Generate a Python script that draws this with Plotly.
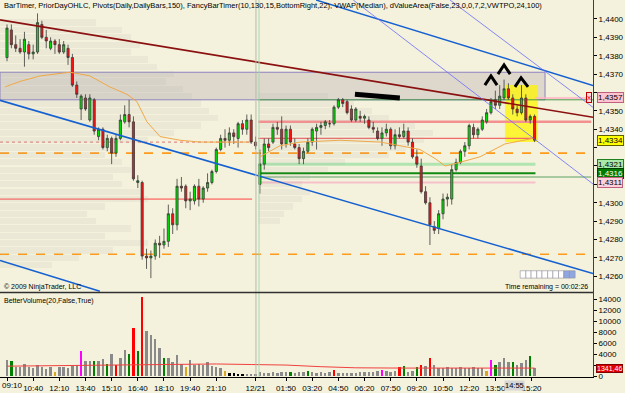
import plotly.graph_objects as go

# ---------------- DATA ----------------
opens = [1.4379,1.4394,1.4386,1.4384,1.4382,1.4386,1.4381,1.4382,1.4397,1.4390,
         1.4384,1.4388,1.4386,1.4382,1.4384,1.4379,1.4364,1.4351,1.4357,1.4345,
         1.4356,1.4336,1.4340,1.4330,1.4335,1.4327,1.4335,1.4344,1.4348,1.4344,
         1.4311,1.4311,1.4271,1.4270,1.4271,1.4278,1.4277,1.4279,1.4294,1.4288,
         1.4309,1.4309,1.4301,1.4301,1.4309,1.4302,1.4308,1.4311,1.4317,1.4329,
         1.4335,1.4334,1.4338,1.4335,1.4343,1.4340,1.4345,1.4333,1.4310,1.4321,
         1.4332,1.4333,1.4341,1.4340,1.4332,1.4340,1.4332,1.4330,1.4324,1.4328,
         1.4333,1.4339,1.4341,1.4342,1.4343,1.4343,1.4352,1.4356,1.4355,1.4351,
         1.4345,1.4347,1.4346,1.4345,1.4341,1.4339,1.4335,1.4338,1.4340,1.4331,
         1.4337,1.4336,1.4339,1.4333,1.4325,1.4320,1.4306,1.4300,1.4287,1.4286,
         1.4294,1.4302,1.4302,1.4318,1.4322,1.4328,1.4331,1.4341,1.4337,1.4340,
         1.4344,1.4349,1.4356,1.4353,1.4357,1.4362,1.4357,1.4351,1.4349,1.4357,
         1.4345,1.4347]
highs = [1.4397,1.4397,1.4391,1.4389,1.4393,1.4388,1.4386,1.4403,1.4399,1.4394,
         1.4390,1.4389,1.4389,1.4388,1.4386,1.4381,1.4366,1.4359,1.4359,1.4359,
         1.4357,1.4341,1.4341,1.4337,1.4336,1.4337,1.4348,1.4353,1.4356,1.4347,
         1.4315,1.4312,1.4275,1.4274,1.4280,1.4282,1.4286,1.4299,1.4297,1.4313,
         1.4314,1.4310,1.4306,1.4310,1.4313,1.4309,1.4316,1.4318,1.4330,1.4337,
         1.4340,1.4341,1.4340,1.4344,1.4345,1.4348,1.4348,1.4336,1.4329,1.4335,
         1.4335,1.4343,1.4344,1.4347,1.4342,1.4342,1.4335,1.4332,1.4330,1.4335,
         1.4341,1.4343,1.4344,1.4345,1.4345,1.4353,1.4357,1.4357,1.4356,1.4353,
         1.4352,1.4350,1.4348,1.4347,1.4344,1.4341,1.4341,1.4343,1.4341,1.4340,
         1.4341,1.4343,1.4341,1.4335,1.4329,1.4324,1.4309,1.4303,1.4290,1.4296,
         1.4305,1.4305,1.4321,1.4324,1.4329,1.4333,1.4343,1.4343,1.4341,1.4347,
         1.4351,1.4357,1.4361,1.4364,1.4367,1.4365,1.4359,1.4353,1.4364,1.4359,
         1.4348,1.4348]
lows = [1.4377,1.4384,1.4382,1.4381,1.4374,1.4378,1.4378,1.4381,1.4389,1.4384,
        1.4383,1.4381,1.4381,1.4381,1.4375,1.4363,1.4357,1.4345,1.4350,1.4344,
        1.4337,1.4334,1.4329,1.4328,1.4321,1.4325,1.4334,1.4343,1.4341,1.4312,
        1.4308,1.4269,1.4264,1.4259,1.4269,1.4270,1.4275,1.4276,1.4283,1.4285,
        1.4306,1.4297,1.4296,1.4299,1.4298,1.4300,1.4306,1.4310,1.4316,1.4328,
        1.4330,1.4331,1.4332,1.4330,1.4337,1.4337,1.4332,1.4329,1.4305,1.4318,
        1.4328,1.4332,1.4337,1.4329,1.4330,1.4331,1.4329,1.4321,1.4321,1.4327,
        1.4331,1.4329,1.4337,1.4340,1.4341,1.4342,1.4351,1.4352,1.4348,1.4344,
        1.4344,1.4344,1.4343,1.4340,1.4338,1.4334,1.4331,1.4336,1.4329,1.4329,
        1.4335,1.4335,1.4331,1.4324,1.4319,1.4305,1.4299,1.4277,1.4283,1.4283,
        1.4291,1.4298,1.4299,1.4317,1.4321,1.4325,1.4329,1.4335,1.4335,1.4339,
        1.4343,1.4348,1.4351,1.4351,1.4356,1.4356,1.4348,1.4347,1.4348,1.4344,
        1.4343,1.4333]
closes = [1.4395,1.4386,1.4384,1.4382,1.4389,1.4381,1.4382,1.4398,1.4390,1.4388,
          1.4388,1.4386,1.4382,1.4386,1.4379,1.4364,1.4359,1.4358,1.4351,1.4357,
          1.4339,1.4340,1.4330,1.4335,1.4327,1.4335,1.4345,1.4348,1.4344,1.4313,
          1.4312,1.4271,1.4270,1.4271,1.4278,1.4277,1.4279,1.4294,1.4288,1.4309,
          1.4308,1.4301,1.4302,1.4309,1.4302,1.4308,1.4311,1.4317,1.4329,1.4335,
          1.4334,1.4338,1.4336,1.4343,1.4340,1.4345,1.4333,1.4331,1.4321,1.4332,
          1.4330,1.4341,1.4340,1.4332,1.4340,1.4333,1.4330,1.4324,1.4328,1.4333,
          1.4340,1.4341,1.4342,1.4344,1.4343,1.4352,1.4356,1.4354,1.4349,1.4345,
          1.4351,1.4346,1.4347,1.4341,1.4340,1.4335,1.4338,1.4340,1.4331,1.4337,
          1.4336,1.4339,1.4333,1.4325,1.4321,1.4306,1.4300,1.4288,1.4285,1.4294,
          1.4302,1.4303,1.4318,1.4322,1.4328,1.4331,1.4342,1.4337,1.4340,1.4345,
          1.4349,1.4355,1.4353,1.4358,1.4362,1.4357,1.4351,1.4349,1.4357,1.4345,
          1.4347,1.4334]

volume = [2800,2700,1600,1600,2200,1500,1300,2000,1500,1200,
          1600,700,1600,1500,1300,1800,2000,4400,2700,2600,
          2700,2600,3100,2200,4000,1900,3200,4600,4000,8700,
          4400,14300,8200,7400,6600,5000,3300,3300,2500,3800,
          2200,1500,2800,2000,2200,1900,2500,1800,1500,1400,
          900,500,400,300,300,250,300,200,600,500,
          500,600,400,700,600,700,500,600,700,900,
          600,500,700,500,600,1100,500,500,400,500,
          500,600,700,700,700,800,1100,800,700,800,
          1500,1800,700,800,1500,2000,1700,3300,1900,1400,
          1300,1600,1400,1300,1500,1400,1400,1600,1400,1300,
          900,2900,2000,2500,3300,2400,2500,2000,2300,2800,
          3500,1341.46]
volume_kind = {1:"g",11:"o",17:"m",20:"g",23:"g",25:"r",28:"g",29:"r",30:"g",31:"r",
               36:"g",41:"o",50:"o",51:"k",52:"k",53:"k",54:"k",65:"g",69:"g",75:"r",
               86:"m",90:"r",91:"g",94:"g",95:"r",97:"r",110:"o",111:"m",112:"g",
               116:"g",120:"g"}
vol_ma_x = [0, 10, 20, 30, 40, 48, 56, 64, 72, 80, 90, 100, 110, 121]
vol_ma_y = [1800, 1900, 1900, 2000, 2100, 2200, 2100, 2000, 1700, 1500, 1450, 1450, 1450, 1450]

tick_idx = [0,6,12,18,24,30,36,42,48,57,64,70,76,82,88,94,100,106,112,120.3]
tick_lbl = ["","10:40","12:10","13:40","15:10","16:40","18:10","19:40","21:10","12/21",
            "01:50","03:20","04:50","06:20","07:50","09:20","10:50","12:20","13:50","15:20"]
first_tick_lbl = "09:10"
cursor_time, cursor_idx = "14:55", 116.3
price_ticks = [1.4260,1.4270,1.4280,1.4290,1.4300,1.4310,1.4320,1.4330,1.4340,
               1.4350,1.4360,1.4370,1.4380,1.4390,1.4400]
# labels hidden behind the price tags are left blank, as in the source
price_lbls = ["1,4260","1,4270","1,4280","1,4290","1,4300","","","","1,4340",
              "1,4350","","1,4370","1,4380","1,4390","1,4400"]
vol_ticks = [0,2000,4000,6000,8000,10000,12000,14000]
vol_lbls = ["0","","4000","6000","8000","10000","12000","14000"]

# VWAP (median) curves, per session
vwap1_x = [-0.5, 3.0, 7.6, 14.5, 19.0, 23.6, 27.5, 29.8, 32.1, 35.1, 39.7, 44.3, 55.7]
vwap1_y = [1.4363,1.4366,1.4369,1.4371,1.4369,1.4363,1.4359,1.4355,1.4344,1.4336,1.4334,1.4333,1.4333]
vwap2_x = [58.0, 62.6, 67.2, 76.4, 85.6, 94.7, 98.2, 100.5, 103.9, 108.5, 114.2, 120.6]
vwap2_y = [1.4325,1.4331,1.4333,1.4334,1.4333,1.4329,1.4324,1.4320,1.4322,1.4325,1.4332,1.4335]

# drawn trend lines (x = bar index, y = price)
maroon_x, maroon_y = [-1.6, 134.4], [1.43995, 1.43465]
blue1_x, blue1_y = [-1.6, 134.4], [1.43557, 1.42615]
blue2_x, blue2_y = [-1.6, 21.3], [1.42686, 1.42518]
blue3_x, blue3_y = [70.9, 134.4], [1.44103, 1.43638]
thinA_x, thinA_y = [79.4, 134.4], [1.44103, 1.43102]
thinB_x, thinB_y = [101.6, 134.4], [1.44103, 1.43519]

# value area band of prior day
va_high, va_low, va_x0, va_x1 = 1.4371, 1.4356, -1.6, 123.4
# horizontal levels: (price, x0, x1, color, width, dash)
levels = [
    (1.4327, -1.6, 134.4, "#ff9a1a", 1.6, "dash"),
    (1.4272, -1.6, 134.4, "#ff9a1a", 1.6, "dash"),
    (1.4333, -1.6, 56.2, "#e07070", 1.0, "dot"),
    (1.4302, -1.6, 56.2, "#ff4040", 1.0, "solid"),
    (1.4344, 57.6, 134.0, "#f49090", 2.5, "solid"),
    (1.4335, 57.6, 121.2, "#f06a6a", 1.2, "solid"),
    (1.4356, 57.6, 134.4, "#4a9a4a", 1.0, "solid"),
    (1.4357, 121.2, 133.8, "#ffb0c4", 1.5, "solid"),
    (1.4321, 57.6, 121.2, "#b0e4b0", 3.0, "solid"),
    (1.4316, 57.6, 121.2, "#108a10", 2.0, "solid"),
    (1.4314, 57.6, 134.0, "#a8c8a0", 2.0, "solid"),
    (1.4311, 57.6, 121.2, "#f6c0c8", 2.0, "solid"),
]
# volume profile (faint)
prof1_p = [1.4398,1.4394,1.4390,1.4386,1.4382,1.4378,1.4374,1.4370,1.4366,1.4362,1.4358,
           1.4354,1.4350,1.4346,1.4342,1.4338,1.4334,1.4330,1.4326,1.4322,1.4318,1.4314,
           1.4310,1.4306,1.4302,1.4298,1.4294,1.4290,1.4286,1.4282,1.4278,1.4274,1.4270,1.4266]
prof1_len = [22,28,30,32,30,34,36,40,38,42,44,46,48,50,46,40,34,26,24,28,30,26,28,32,34,
             24,20,22,30,24,34,26,18,12]
prof2_p = [1.4358,1.4354,1.4350,1.4346,1.4342,1.4338,1.4334,1.4330,1.4326,1.4322,1.4318,
           1.4314,1.4310,1.4306,1.4302,1.4298,1.4294,1.4290]
prof2_len = [16,22,26,30,36,40,38,34,30,20,16,12,10,12,10,8,6,5]

# hand drawn marks
stroke_x, stroke_y = [79.8, 84.0, 90.1], [1.4359, 1.4358, 1.4357]
hat1_x, hat1_y = [109.6, 111.0, 112.4], [1.4364, 1.4369, 1.4364]
hat2_x, hat2_y = [112.6, 114.0, 115.4], [1.4370, 1.4375, 1.4370]
hat3_x, hat3_y = [116.5, 117.9, 119.5], [1.4363, 1.4368, 1.4363]
yellow_x0, yellow_x1, yellow_top, yellow_bot = 114.2, 121.8, 1.4364, 1.4333
session_break = 57.6
timer_x = [117.7,119.0,120.2,121.5,122.7,124.0,125.2,126.5,127.7,129.0,130.3]
timer_top, timer_bot = 1.4263, 1.4259
timer_done = 8

BG = "#f4f2dc"
FONT = "Liberation Sans"

fig = go.Figure()
idx = list(range(len(closes)))

# profile bars
for pp, ll, b0 in ((prof1_p, prof1_len, -1.6), (prof2_p, prof2_len, 57.6)):
    fig.add_trace(go.Bar(x=ll, y=pp, base=b0, orientation="h", width=0.00034,
                         marker=dict(color="rgba(170,170,170,0.12)", line=dict(width=0)),
                         xaxis="x", yaxis="y", hoverinfo="skip", showlegend=False))

shapes = []
shapes.append(dict(type="rect", xref="x", yref="y", x0=va_x0, x1=va_x1, y0=va_low, y1=va_high,
                   fillcolor="rgba(150,135,150,0.24)", line=dict(color="#8c80c0", width=1), layer="below"))
shapes.append(dict(type="rect", xref="x", yref="y", x0=yellow_x0, x1=yellow_x1, y0=yellow_bot, y1=yellow_top,
                   fillcolor="rgba(255,245,0,0.75)", line=dict(width=0), layer="below"))
for p, a, b, c, w, d in levels:
    shapes.append(dict(type="line", xref="x", yref="y", x0=a, x1=b, y0=p, y1=p,
                       line=dict(color=c, width=w, dash=d), layer="below"))
# session break lines
shapes.append(dict(type="line", xref="x", yref="paper", x0=session_break - 0.5, x1=session_break - 0.5,
                   y0=0, y1=1, line=dict(color="#b8b8b0", width=1)))
shapes.append(dict(type="line", xref="x", yref="paper", x0=session_break + 0.2, x1=session_break + 0.2,
                   y0=0, y1=1, line=dict(color="#a8d8a8", width=1)))
# panel separator
shapes.append(dict(type="line", xref="paper", yref="paper", x0=0, x1=1, y0=0.22427, y1=0.22427,
                   line=dict(color="#303030", width=1.5)))
# timer cells
for k in range(len(timer_x) - 1):
    shapes.append(dict(type="rect", xref="x", yref="y", x0=timer_x[k], x1=timer_x[k + 1],
                       y0=timer_bot, y1=timer_top,
                       fillcolor="#8fa6e0" if k >= timer_done else "#ffffff",
                       line=dict(color="#9090a0", width=0.6)))

def line_trace(x, y, color, width, dash="solid"):
    fig.add_trace(go.Scatter(x=x, y=y, mode="lines", line=dict(color=color, width=width, dash=dash),
                             xaxis="x", yaxis="y", hoverinfo="skip", showlegend=False))

line_trace(vwap1_x, vwap1_y, "#f0a848", 1)
line_trace(vwap2_x, vwap2_y, "#f0a848", 1)
line_trace(maroon_x, maroon_y, "#8b1010", 1.6)
line_trace(blue1_x, blue1_y, "#1560d0", 1.6)
line_trace(blue2_x, blue2_y, "#1560d0", 1.6)
line_trace(blue3_x, blue3_y, "#1560d0", 1.4)
line_trace(thinA_x, thinA_y, "#6a6aff", 0.8)
line_trace(thinB_x, thinB_y, "#6a6aff", 0.8)

fig.add_trace(go.Candlestick(x=idx, open=opens, high=highs, low=lows, close=closes,
                             increasing=dict(fillcolor="#00e000", line=dict(color="#3a3a3a", width=0.8)),
                             decreasing=dict(fillcolor="#ff1010", line=dict(color="#3a3a3a", width=0.8)),
                             whiskerwidth=0, xaxis="x", yaxis="y", hoverinfo="skip", showlegend=False))

line_trace(stroke_x, stroke_y, "#000000", 5)
line_trace(hat1_x, hat1_y, "#000000", 3)
line_trace(hat2_x, hat2_y, "#000000", 3)
line_trace(hat3_x, hat3_y, "#000000", 3)

colmap = {"g": "#008000", "o": "#daa520", "m": "#ff00ff", "r": "#ff0000", "k": "#000000"}
vcolors = [colmap.get(volume_kind.get(i, ""), "#8a8a8a") for i in idx]
fig.add_trace(go.Bar(x=idx, y=volume, marker=dict(color=vcolors, line=dict(width=0)), width=0.55,
                     xaxis="x", yaxis="y2", hoverinfo="skip", showlegend=False))
fig.add_trace(go.Scatter(x=vol_ma_x, y=vol_ma_y, mode="lines", line=dict(color="#f04040", width=1),
                         xaxis="x", yaxis="y2", hoverinfo="skip", showlegend=False))

ann = []
small = dict(family=FONT, size=7, color="#000000")
ann.append(dict(text="BarTimer, PriorDayOHLC, Pivots(Daily,DailyBars,150), FancyBarTimer(10,130,15,BottomRight,22), VWAP(Median), dValueArea(False,23,0,0,7,2,VWTPO,24,100)",
                xref="paper", yref="paper", x=0.004, y=1, xanchor="left", yanchor="top", yshift=1,
                showarrow=False, font=dict(family=FONT, size=7.5, color="#000000")))
ann.append(dict(text="© 2009 NinjaTrader, LLC", xref="paper", yref="y", x=0.004, y=1.4254,
                xanchor="left", yanchor="middle", showarrow=False, font=small))
ann.append(dict(text="Time remaining = 00:02:26", xref="paper", yref="y", x=0.995, y=1.4254,
                xanchor="right", yanchor="middle", showarrow=False, font=small))
ann.append(dict(text="BetterVolume(20,False,True)", xref="paper", yref="y2", x=0.004, y=13700,
                xanchor="left", yanchor="middle", showarrow=False, font=small))
ann.append(dict(text=first_tick_lbl, xref="paper", yref="paper", x=0, y=0, xanchor="left", yanchor="top",
                yshift=-2, showarrow=False, font=dict(family=FONT, size=8, color="#000000")))
tags = [(1.4357, "1,4357", "#ffc4d0", "#000000", "#c06080"),
        (1.4334, "1,4334", "#ffff00", "#000000", "#606000"),
        (1.4321, "1,4321", "#a8e8a8", "#000000", "#208020"),
        (1.4316, "1,4316", "#007a00", "#ffffff", "#004000"),
        (1.4311, "1,4311", "#ffd0da", "#000000", "#c06080")]
for p, t, bg, fc, bc in tags:
    ann.append(dict(text=t, xref="paper", yref="y", x=1, y=p, xanchor="left", yanchor="middle",
                    xshift=4, showarrow=False, bgcolor=bg, bordercolor=bc, borderwidth=1, borderpad=0,
                    font=dict(family=FONT, size=8, color=fc)))
ann.append(dict(text="x", xref="paper", yref="y", x=1, y=1.4357, xanchor="right", yanchor="middle",
                xshift=-1, showarrow=False, bgcolor="#ffd8d8", bordercolor="#c00000", borderwidth=1,
                borderpad=0, font=dict(family=FONT, size=8, color="#e00000")))
ann.append(dict(text="1341,46", xref="paper", yref="y2", x=1, y=volume[-1], xanchor="left", yanchor="middle",
                xshift=3, showarrow=False, bgcolor="#e00000", bordercolor="#800000", borderwidth=1, borderpad=0,
                font=dict(family=FONT, size=7, color="#ffffff")))
ann.append(dict(text=cursor_time, xref="x", yref="paper", x=cursor_idx, y=0, xanchor="center", yanchor="top",
                yshift=-3, showarrow=False, bgcolor="#d6d6d6", borderpad=0,
                font=dict(family=FONT, size=7.5, color="#000000")))

fig.update_layout(
    width=625, height=393, margin=dict(l=0, r=32, t=0, b=14),
    paper_bgcolor=BG, plot_bgcolor=BG, showlegend=False, bargap=0, barmode="overlay",
    font=dict(family=FONT, size=8, color="#000000"),
    shapes=shapes, annotations=ann,
    xaxis=dict(domain=[0, 1], anchor="y2", range=[-1.606, 134.4], tickmode="array",
               tickvals=tick_idx, ticktext=tick_lbl, ticks="outside", ticklen=3, tickcolor="#000000",
               showgrid=False, zeroline=False, showline=True, linecolor="#000000", linewidth=1,
               rangeslider=dict(visible=False), tickfont=dict(family=FONT, size=8)),
    yaxis=dict(domain=[0.22427, 1], anchor="x", side="right", range=[1.42512, 1.44103],
               tickmode="array", tickvals=price_ticks, ticktext=price_lbls, ticks="outside",
               ticklen=3, tickcolor="#000000", showgrid=False, zeroline=False, showline=True,
               linecolor="#404040", linewidth=1, tickfont=dict(family=FONT, size=8)),
    yaxis2=dict(domain=[0, 0.22427], anchor="x", side="right", range=[-182, 15273],
                tickmode="array", tickvals=vol_ticks, ticktext=vol_lbls, ticks="outside",
                ticklen=3, tickcolor="#000000", showgrid=False, zeroline=False, showline=True,
                linecolor="#404040", linewidth=1, tickfont=dict(family=FONT, size=8)),
)

fig.write_html("out.html")
